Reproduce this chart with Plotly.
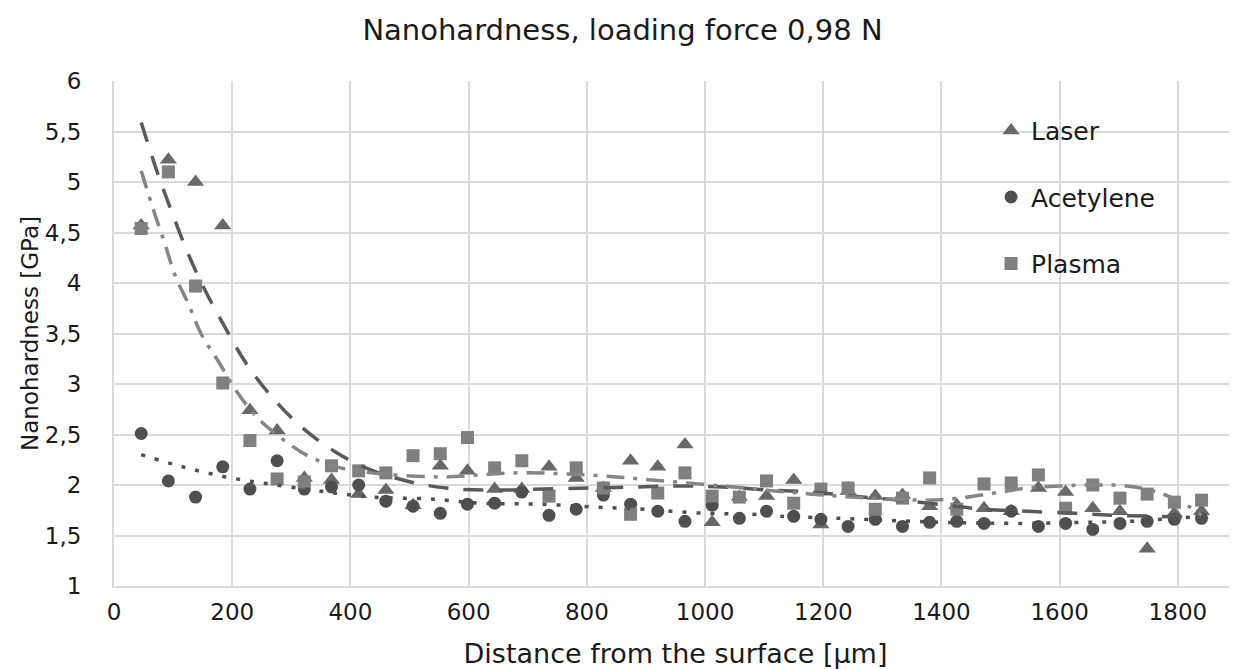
import plotly.graph_objects as go

# distance from the surface [um]
distance = [46, 92, 138, 184, 230, 276, 322, 368, 414, 460,
            506, 552, 598, 644, 690, 736, 782, 828, 874, 920,
            966, 1012, 1058, 1104, 1150, 1196, 1242, 1288, 1334, 1380,
            1426, 1472, 1518, 1564, 1610, 1656, 1702, 1748, 1794, 1840]

laser = [4.57, 5.22, 5.00, 4.57, 2.74, 2.54, 2.07, 2.05, 1.91, 1.95,
         1.80, 2.19, 2.14, 1.96, 1.96, 2.18, 2.07, 1.97, 2.24, 2.18,
         2.40, 1.63, 1.88, 1.89, 2.05, 1.61, 1.94, 1.89, 1.90, 1.79,
         1.80, 1.77, 1.74, 1.97, 1.93, 1.77, 1.74, 1.37, 1.72, 1.74]

acetylene = [2.51, 2.04, 1.88, 2.18, 1.96, 2.24, 1.96, 1.98, 2.00, 1.84,
             1.79, 1.72, 1.81, 1.82, 1.93, 1.70, 1.76, 1.90, 1.81, 1.74,
             1.64, 1.80, 1.67, 1.74, 1.69, 1.66, 1.59, 1.66, 1.59, 1.63,
             1.64, 1.62, 1.74, 1.59, 1.62, 1.56, 1.62, 1.64, 1.66, 1.67]

plasma = [4.54, 5.10, 3.97, 3.01, 2.44, 2.06, 2.03, 2.19, 2.14, 2.12,
          2.29, 2.31, 2.47, 2.17, 2.24, 1.89, 2.17, 1.97, 1.71, 1.92,
          2.12, 1.89, 1.88, 2.04, 1.82, 1.96, 1.97, 1.76, 1.87, 2.07,
          1.76, 2.01, 2.02, 2.10, 1.77, 2.00, 1.87, 1.91, 1.83, 1.85]

# trendlines
laser_trend_x = [46, 73, 98, 124, 153, 187, 223, 266, 316, 374, 430, 509, 580, 650, 725,
                 810, 880, 955, 1030, 1110, 1180, 1250, 1330, 1410, 1470, 1545, 1625, 1695, 1765, 1840]
laser_trend_y = [5.59, 5.10, 4.70, 4.31, 3.94, 3.57, 3.21, 2.88, 2.58, 2.33, 2.16, 2.02, 1.96, 1.95, 1.96,
                 1.97, 1.98, 1.99, 1.98, 1.95, 1.93, 1.89, 1.85, 1.80, 1.76, 1.74, 1.72, 1.70, 1.69, 1.68]

plasma_trend_x = [46, 68, 86, 103, 126, 148, 178, 207, 242, 284, 331, 383, 436, 555, 679, 800,
                  910, 1030, 1140, 1250, 1375, 1430, 1490, 1545, 1600, 1660, 1715, 1770, 1815, 1840]
plasma_trend_y = [5.11, 4.70, 4.39, 4.08, 3.79, 3.49, 3.21, 2.93, 2.67, 2.46, 2.28, 2.17, 2.12, 2.08, 2.12, 2.10,
                  2.05, 1.99, 1.93, 1.88, 1.85, 1.87, 1.92, 1.97, 1.99, 2.00, 1.99, 1.92, 1.80, 1.70]

acet_trend_x = [46, 116, 189, 262, 336, 387, 437, 540, 617, 718, 820, 896, 998, 1078,
                1127, 1229, 1307, 1409, 1538, 1641, 1719, 1770, 1840]
acet_trend_y = [2.30, 2.18, 2.08, 2.01, 1.95, 1.91, 1.88, 1.86, 1.82, 1.81, 1.78, 1.76, 1.72, 1.71,
                1.69, 1.67, 1.65, 1.63, 1.62, 1.63, 1.64, 1.66, 1.69]

x_ticks = [0, 200, 400, 600, 800, 1000, 1200, 1400, 1600, 1800]

FONT = "DejaVu Sans"
TXT = "#1a1a1a"
GRID = "#d9d9d9"

fig = go.Figure()

fig.add_trace(go.Scatter(x=distance, y=laser, mode="markers", name="Laser",
                         legendgroup="a",
                         marker=dict(symbol="triangle-up", size=15, color="#686868")))
fig.add_trace(go.Scatter(x=distance, y=acetylene, mode="markers", name="Acetylene",
                         legendgroup="b",
                         marker=dict(symbol="circle", size=13, color="#4f4f4f")))
fig.add_trace(go.Scatter(x=distance, y=plasma, mode="markers", name="Plasma",
                         legendgroup="c",
                         marker=dict(symbol="square", size=13, color="#7f7f7f")))

# trendlines on top of the markers
fig.add_trace(go.Scatter(x=laser_trend_x, y=laser_trend_y, mode="lines", showlegend=False,
                         line=dict(color="#5a5a5a", width=3.5, dash="20px,15px", shape="spline")))
fig.add_trace(go.Scatter(x=acet_trend_x, y=acet_trend_y, mode="lines", showlegend=False,
                         line=dict(color="#4f4f4f", width=3.5, dash="4px,10px", shape="spline")))
fig.add_trace(go.Scatter(x=plasma_trend_x, y=plasma_trend_y, mode="lines", showlegend=False,
                         line=dict(color="#858585", width=3.5, dash="18px,9px,4px,9px", shape="spline")))

# the page body adds 8px, so the figure is 8px smaller and margins are shifted
fig.update_layout(
    width=1229, height=661,
    margin=dict(l=106, r=0, t=73, b=83),
    paper_bgcolor="white", plot_bgcolor="white",
    separators=", ",
    font=dict(family=FONT, size=23, color=TXT),
    title=dict(text="Nanohardness, loading force 0,98 N", x=0.5, xanchor="center",
               y=0.967, yanchor="middle", font=dict(family=FONT, size=29, color=TXT)),
    legend=dict(x=0.781, y=0.947, xanchor="left", yanchor="top",
                bgcolor="rgba(0,0,0,0)", tracegroupgap=31,
                font=dict(family=FONT, size=25, color=TXT)),
    showlegend=True,
)

fig.update_xaxes(range=[0, 1900], tickvals=x_ticks, showgrid=True, gridcolor=GRID, gridwidth=2,
                 showline=True, linecolor=GRID, linewidth=2, zeroline=False, ticks="",
                 automargin=False, tickfont=dict(size=23), ticklabelstandoff=4,
                 title=dict(text="Distance from the surface [µm]", font=dict(size=27), standoff=22))
fig.update_yaxes(range=[1, 6], dtick=0.5, showgrid=True, gridcolor=GRID, gridwidth=2,
                 showline=True, linecolor=GRID, linewidth=2, zeroline=False, ticks="",
                 automargin=False, tickfont=dict(size=23), ticklabelstandoff=26,
                 title=dict(text="Nanohardness [GPa]", font=dict(size=23), standoff=0))

fig.write_html("out.html")
